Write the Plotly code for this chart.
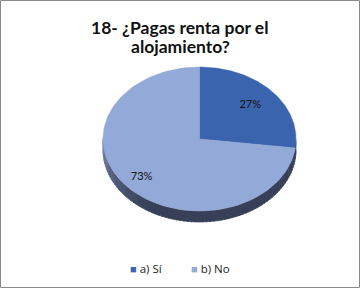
import numpy as np
import plotly.graph_objects as go

categories = ["a) Sí", "b) No"]
values = [27, 73]
label_text = ["27%", "73%"]
title_lines = ["18- ¿Pagas renta por el", "alojamiento?"]

# style constants
top_colors = ["#3A64AD", "#93A9D7"]
side_dark = [(40, 62, 110), (55, 64, 88)]
side_light = [(70, 100, 160), (112, 127, 166)]
label_r = [0.7, 0.8]
cx, cy, rx, ry, depth = 199.5, 139.0, 96.5, 72.0, 11.0
FONT = "Lato, Open Sans, sans-serif"

fracs = np.array(values, dtype=float) / sum(values)
ends = np.cumsum(fracs) * 2 * np.pi
starts = ends - fracs * 2 * np.pi


def arc(t0, t1, n=60, dy=0.0):
    t = np.linspace(t0, t1, n)
    return cx + rx * np.sin(t), cy - ry * np.cos(t) + dy


fig = go.Figure()

# side wall (visible lower half), drawn in thin strips for shading
nseg = 80
edges = np.linspace(np.pi / 2, 3 * np.pi / 2, nseg + 1)
for i in range(nseg):
    ta, tb = edges[i], edges[i + 1]
    tm = 0.5 * (ta + tb)
    k = int(np.searchsorted(ends, tm))
    k = min(k, len(values) - 1)
    w = np.clip((tm - 1.15 * np.pi) / (0.35 * np.pi), 0, 1) ** 1.3
    c = [int(side_dark[k][j] + (side_light[k][j] - side_dark[k][j]) * w) for j in range(3)]
    col = "rgb(%d,%d,%d)" % tuple(c)
    xt, yt = arc(ta, tb + 0.01, 6)
    xb, yb = arc(ta, tb + 0.01, 6, depth)
    fig.add_trace(go.Scatter(
        x=np.concatenate([xt, xb[::-1]]), y=np.concatenate([yt, yb[::-1]]),
        fill="toself", fillcolor=col, mode="lines", line=dict(width=0.6, color=col),
        hoverinfo="skip", showlegend=False))

# top faces
for k in range(len(values)):
    xa, ya = arc(starts[k], ends[k], 120)
    fig.add_trace(go.Scatter(
        x=np.concatenate([[cx], xa, [cx]]), y=np.concatenate([[cy], ya, [cy]]),
        fill="toself", fillcolor=top_colors[k], mode="lines",
        line=dict(width=0.5, color=top_colors[k]),
        hoverinfo="skip", showlegend=False))

# percent labels
mids = 0.5 * (starts + ends)
fig.add_trace(go.Scatter(
    x=cx + rx * np.array(label_r) * np.sin(mids),
    y=cy - ry * np.array(label_r) * np.cos(mids),
    text=label_text, mode="text",
    textfont=dict(family=FONT, size=11, color="#111111"),
    hoverinfo="skip", showlegend=False))

annotations = []
# title lines
for i, line in enumerate(title_lines):
    annotations.append(dict(text="<b>%s</b>" % line, xref="paper", yref="paper",
                            x=0.5, y=1 - (27 + 20 * i) / 288, xanchor="center", yanchor="middle",
                            showarrow=False, font=dict(family=FONT, size=17.5, color="#111111")))
# legend (Excel style)
for k in range(len(values)):
    annotations.append(dict(
        text="<span style='color:%s;font-size:11px'>■</span> %s" % (top_colors[k], categories[k]),
        xref="paper", yref="paper", x=(128 + 61 * k) / 360, y=1 - 268 / 288,
        xanchor="left", yanchor="middle", showarrow=False,
        font=dict(family="Open Sans, sans-serif", size=11.5, color="#222222")))

fig.update_layout(
    width=360, height=288,
    margin=dict(l=0, r=0, t=0, b=0),
    paper_bgcolor="white", plot_bgcolor="white",
    xaxis=dict(range=[0, 360], visible=False, fixedrange=True),
    yaxis=dict(range=[288, 0], visible=False, fixedrange=True),
    annotations=annotations,
    shapes=[dict(type="rect", xref="paper", yref="paper", x0=0.5 / 360, x1=1 - 0.5 / 360,
                 y0=0.5 / 288, y1=1 - 0.5 / 288, line=dict(color="#8a8a8a", width=1))],
    showlegend=False,
)

fig.write_html("out.html", config={"displayModeBar": False},
               post_script="document.body.style.margin='0';document.body.style.overflow='hidden';")
